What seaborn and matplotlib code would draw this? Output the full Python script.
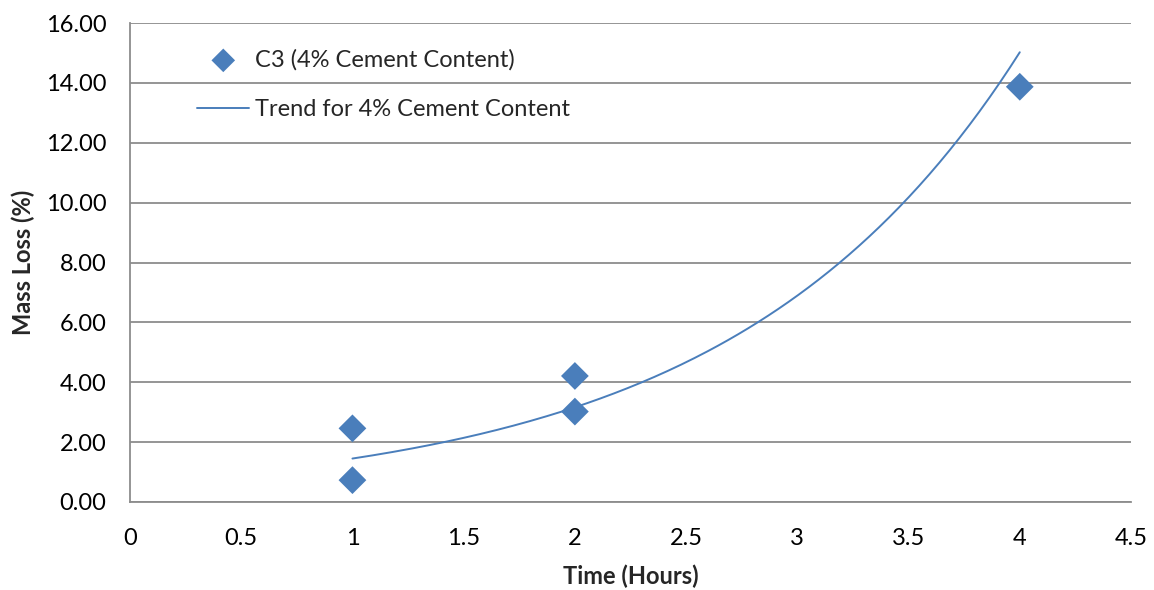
import numpy as np
import pandas as pd
import matplotlib
matplotlib.use("Agg")
import matplotlib.pyplot as plt
import seaborn as sns

# Data
time_hours = [1, 1, 2, 2, 4]
mass_loss = [0.73, 2.46, 3.02, 4.21, 13.87]
series_label = "C3 (4% Cement Content)"
trend_label = "Trend for 4% Cement Content"
x_ticks = [0, 0.5, 1, 1.5, 2, 2.5, 3, 3.5, 4, 4.5]
x_tick_labels = ["0", "0.5", "1", "1.5", "2", "2.5", "3", "3.5", "4", "4.5"]
y_ticks = [0, 2, 4, 6, 8, 10, 12, 14, 16]
y_tick_labels = ["0.00", "2.00", "4.00", "6.00", "8.00", "10.00", "12.00", "14.00", "16.00"]

sns.set_style("white")
plt.rcParams["font.family"] = ["Lato", "DejaVu Sans"]

df = pd.DataFrame({"Time": time_hours, "Loss": mass_loss})

# Exponential trend (Excel-style: linear fit of ln(y) vs x)
b, ln_a = np.polyfit(np.array(time_hours, float), np.log(mass_loss), 1)
tx = np.linspace(min(time_hours), max(time_hours), 200)
trend = pd.DataFrame({"Time": tx, "Loss": np.exp(ln_a) * np.exp(b * tx)})

fig = plt.figure(figsize=(11.54, 5.90), dpi=100)
ax = fig.add_axes([130 / 1154, 1 - 502 / 590, (1131 - 130) / 1154, (502 - 23) / 590])

marker_color = "#4a7ebb"
sns.scatterplot(data=df, x="Time", y="Loss", marker="D", s=200, color=marker_color,
                edgecolor="none", ax=ax, label=series_label, zorder=3)
sns.lineplot(data=trend, x="Time", y="Loss", color=marker_color, linewidth=1.4,
             ax=ax, label=trend_label, zorder=2)

fs = 17
ax.set_xlim(0, 4.5)
ax.set_ylim(0, 16)
ax.set_xticks(x_ticks)
ax.set_xticklabels(x_tick_labels)
ax.set_yticks(y_ticks)
ax.set_yticklabels(y_tick_labels)
ax.tick_params(axis="both", labelsize=fs, length=0, colors="black")
ax.tick_params(axis="x", pad=19)
ax.tick_params(axis="y", pad=17)

ax.yaxis.grid(True, color="#8c8c8c", linewidth=1.3)
ax.xaxis.grid(False)
ax.set_axisbelow(True)
for side in ["top", "right"]:
    ax.spines[side].set_visible(False)
for side in ["left", "bottom"]:
    ax.spines[side].set_color("#8c8c8c")
    ax.spines[side].set_linewidth(1.3)

ax.set_xlabel("Time (Hours)", fontsize=fs, fontweight="bold", labelpad=11)
ax.set_ylabel("Mass Loss (%)", fontsize=fs, fontweight="bold", labelpad=8)

leg = ax.legend(loc="upper left", bbox_to_anchor=(0.046, 0.99), frameon=False,
                fontsize=fs, handlelength=2.2, handletextpad=0.25, labelspacing=1.2,
                markerscale=0.85)

fig.savefig("out.png", dpi=100, facecolor="white")
